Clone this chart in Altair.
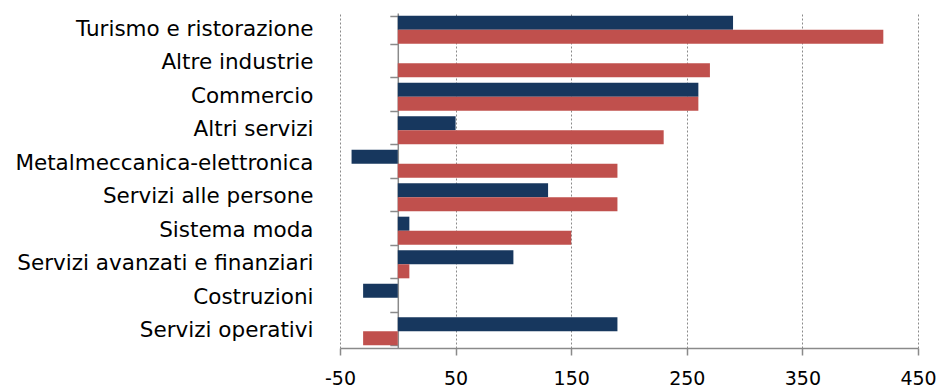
import altair as alt
import pandas as pd

categories = [
    "Turismo e ristorazione",
    "Altre industrie ",
    "Commercio",
    "Altri servizi",
    "Metalmeccanica-elettronica",
    "Servizi alle persone",
    "Sistema moda",
    "Servizi avanzati e finanziari",
    "Costruzioni",
    "Servizi operativi",
]
serie_1 = [290, 0, 260, 50, -40, 130, 10, 100, -30, 190]
serie_2 = [420, 270, 260, 230, 190, 190, 150, 10, 0, -30]
series_names = ["Serie 1", "Serie 2"]
series_colors = ["#17375E", "#C0504D"]
x_ticks = [-50, 50, 150, 250, 350, 450]

rows = []
for c, a, b in zip(categories, serie_1, serie_2):
    rows.append({"cat": c, "serie": series_names[0], "val": a})
    rows.append({"cat": c, "serie": series_names[1], "val": b})
df = pd.DataFrame(rows)
df_cat = pd.DataFrame({"cat": categories})

FONT = "DejaVu Sans"
W, H = 578, 335

yscale = alt.Scale(domain=categories, paddingInner=0.16, paddingOuter=0.08)
xscale = alt.Scale(domain=[-50, 450], nice=False, zero=False)

bars = alt.Chart(df).mark_bar().encode(
    y=alt.Y(
        "cat:N",
        scale=yscale,
        sort=categories,
        axis=alt.Axis(
            title=None, domain=False, ticks=False, grid=False,
            labelFontSize=21.5, labelFont=FONT, labelColor="black",
            labelPadding=27, labelLimit=400, orient="left",
        ),
    ),
    x=alt.X(
        "val:Q",
        scale=xscale,
        axis=alt.Axis(
            values=x_ticks, title=None, grid=True, gridDash=[2, 2],
            gridColor="#8a8a8a", domainColor="#8a8a8a", domainWidth=1.5,
            tickColor="#8a8a8a", tickSize=7, tickWidth=1.5,
            labelFontSize=19, labelFont=FONT, labelColor="black",
            labelPadding=14, labelFlush=False, labelOverlap=False,
            labelExpr="'' + datum.value",
        ),
    ),
    yOffset=alt.YOffset(
        "serie:N", sort=series_names,
        scale=alt.Scale(paddingInner=0, paddingOuter=0),
    ),
    color=alt.Color(
        "serie:N",
        scale=alt.Scale(domain=series_names, range=series_colors),
        legend=None,
    ),
)

zero_axis = alt.Chart(df_cat).mark_tick(opacity=0).encode(
    y=alt.Y(
        "cat:N",
        scale=yscale,
        sort=categories,
        axis=alt.Axis(
            orient="left", offset=-W * 50 / 500, labels=False, title=None,
            grid=False, ticks=True, tickBand="extent", tickSize=8,
            tickColor="#8a8a8a", tickWidth=1.5, domain=True,
            domainColor="#8a8a8a", domainWidth=1.5,
        ),
    ),
)

chart = (
    alt.layer(bars, zero_axis)
    .resolve_scale(y="shared")
    .resolve_axis(y="independent")
    .properties(
        width=W,
        height=H,
        autosize=alt.AutoSizeParams(type="none"),
        padding={"left": 340, "top": 13, "right": 22, "bottom": 42},
    )
    .configure_view(stroke=None)
)

chart.save("out.html", embed_options={"renderer": "svg", "actions": False})
